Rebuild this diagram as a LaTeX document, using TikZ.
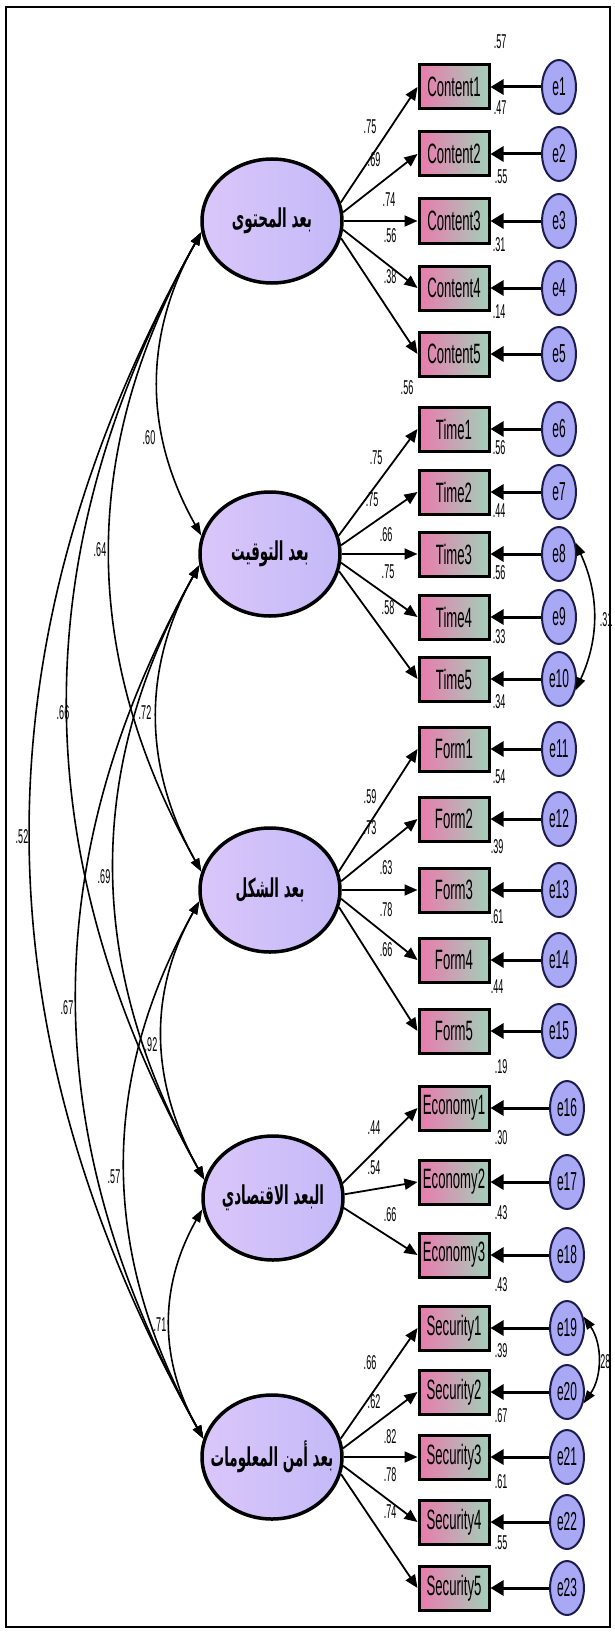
\documentclass[tikz,border=0pt]{standalone}
\usepackage{fontspec}
\setmainfont{Liberation Sans}
\newfontfamily\numfont[FakeStretch=0.45]{Liberation Sans}
\newfontfamily\boxfont[FakeStretch=0.47]{Liberation Sans}
\newfontfamily\efont[FakeStretch=0.46]{Liberation Sans}
\newfontfamily\arabicfont[Script=Arabic,FakeStretch=0.52]{DejaVu Sans}
\TeXXeTstate=1
\usetikzlibrary{arrows.meta,shapes.geometric}

\definecolor{latleft}{RGB}{218,198,250}
\definecolor{latright}{RGB}{196,186,248}
\definecolor{obspink}{RGB}{234,122,172}
\definecolor{obsgreen}{RGB}{162,208,186}
\definecolor{errfill}{RGB}{168,168,244}
\definecolor{errline}{RGB}{28,28,80}

% factor label: zero width so the ellipse keeps its size
\newcommand{\factorname}[1]{\makebox[0pt]{\beginR #1\endR}}

\tikzset{
  latent/.style={ellipse, draw, line width=3.5pt, minimum width=140pt, minimum height=124pt,
    inner sep=0pt, left color=latleft, right color=latright,
    font=\arabicfont\bfseries\fontsize{26}{28}\selectfont},
  observed/.style={rectangle, draw, line width=3pt, minimum width=70pt, minimum height=44pt,
    inner sep=0pt, left color=obspink, right color=obsgreen,
    font=\boxfont\fontsize{28}{30}\selectfont},
  error/.style={ellipse, draw=errline, line width=2pt, fill=errfill, minimum width=34pt,
    minimum height=54pt, inner sep=0pt, font=\efont\fontsize{26}{28}\selectfont},
  coef/.style={inner sep=0pt, font=\numfont\fontsize{20}{22}\selectfont},
  loading/.style={line width=1.8pt, -{Triangle[length=13pt,width=11pt]}},
  residual/.style={line width=3pt, -{Triangle[length=13pt,width=15pt]}},
  covar/.style={line width=1.6pt, {Triangle[length=13pt,width=9pt]}-{Triangle[length=13pt,width=9pt]}},
}

\begin{document}
\begin{tikzpicture}[x=1pt,y=-1pt]
\useasboundingbox (0,0) rectangle (614,1632);
\draw[line width=2pt] (6,7) rectangle (610,1627);

% latent factors
\node[latent] (L1) at (272,221) {\factorname{بعد المحتوى}};
\node[latent] (L2) at (270,554) {\factorname{بعد التوقيت}};
\node[latent] (L3) at (270,890) {\factorname{بعد الشكل}};
\node[latent] (L4) at (273,1198) {\factorname{البعد الاقتصادي}};
\node[latent] (L5) at (272,1457) {\factorname{بعد أمن المعلومات}};

% indicators, residuals, loadings and R^2
\foreach \lat/\obs/\y/\ang/\ex/\k/\lv/\lx/\ly/\rv/\rx/\ry in {
  L1/Content1/87/15/559/1/.75/370/127/.57/500/42,
  L1/Content2/154/7/559/2/.69/374/160/.47/500/108,
  L1/Content3/221/0/559/3/.74/389/200/.55/501/177,
  L1/Content4/288/-7/559/4/.56/390/236/.31/499/245,
  L1/Content5/354/-14/559/5/.38/390/277/.14/499/312,
  L2/Time1/429/15/559/6/.75/376/458/.56/407/388,
  L2/Time2/492/7/559/7/.75/372/500/.56/499/448,
  L2/Time3/554/0/559/8/.66/386/535/.44/499/511,
  L2/Time4/617/-7/559/9/.75/388/572/.56/499/573,
  L2/Time5/679/-14/559/10/.58/388/608/.33/499/637,
  L3/Form1/749/15/559/11/.59/370/797/.34/499/702,
  L3/Form2/819/7/559/12/.73/370/828/.54/499/777,
  L3/Form3/890/0/559/13/.63/386/868/.39/497/847,
  L3/Form4/960/-7/559/14/.78/386/910/.61/497/917,
  L3/Form5/1031/-14/559/15/.66/386/950/.44/497/987,
  L4/Economy1/1108/12/567/16/.44/374/1128/.19/501/1067,
  L4/Economy2/1182/3/567/17/.54/374/1168/.30/501/1138,
  L4/Economy3/1255/-8/567/18/.66/390/1215/.43/501/1213,
  L5/Security1/1328/15/567/19/.66/370/1363/.43/501/1285,
  L5/Security2/1392/7/567/20/.62/374/1402/.39/501/1351,
  L5/Security3/1457/0/567/21/.82/390/1437/.67/501/1416,
  L5/Security4/1522/-7/567/22/.78/390/1475/.61/501/1482,
  L5/Security5/1588/-14/567/23/.74/390/1512/.55/501/1543}{
  \node[observed] (\obs) at (454,\y) {\obs};
  \node[error] (e\k) at (\ex,\y) {e\k};
  \draw[loading] (\lat.\ang) -- (\obs.west);
  \draw[residual] (e\k) -- (\obs);
  \node[coef] (load\k) at (\lx,\ly) {\lv};
  \node[coef] (rsq\k) at (\rx,\ry) {\rv};
}

% factor covariances (control offsets per arc)
\foreach \a/\b/\cx/\cy/\v/\lx/\ly in {
  L1/L2/-58/103/.60/149/438, L1/L3/-122/218/.64/100/550,
  L1/L4/-180/322/.66/63/713, L1/L5/-229/410/.52/22/837,
  L2/L3/-58/104/.72/145/713, L2/L4/-117/209/.69/104/877,
  L2/L5/-166/297/.67/67/1008, L3/L4/-53/95/.92/151/1045,
  L3/L5/-102/183/.57/114/1177, L4/L5/-44/78/.71/160/1325}{
  \draw[covar] (\a.189) .. controls +(\cx,\cy) and +(\cx,-\cy) .. (\b.165);
  \node[coef] (cov\a\b) at (\lx,\ly) {\v};
}

% correlated residuals
\draw[covar] (e8.35) .. controls +(24,52) and +(24,-52) .. (e10.-35);
\node[coef] (cov810) at (606,620) {.31};
\draw[covar] (e19.35) .. controls +(19,27) and +(19,-27) .. (e20.-35);
\node[coef] (cov1920) at (604,1362) {.28};
\end{tikzpicture}
\end{document}
